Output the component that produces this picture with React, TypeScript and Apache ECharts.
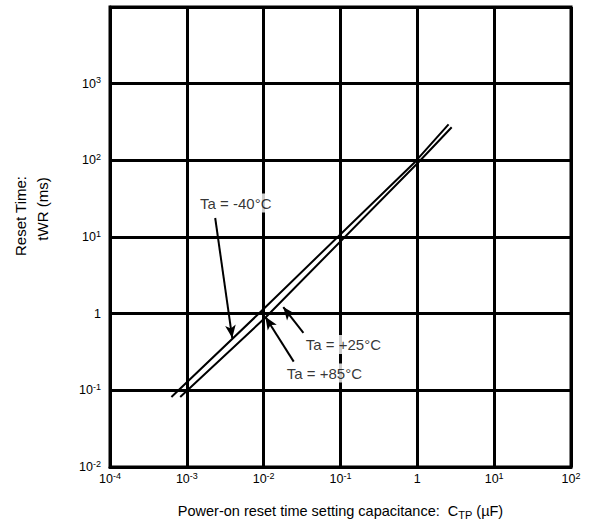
import React, { useEffect, useRef } from "react";
import * as echarts from "echarts";

// Capacitance (µF) and reset time (ms)
const capMinus40 = [6.3e-4, 8.8e-3, 0.94, 2.55];
const timeMinus40 = [0.082, 1.02, 96, 295];
const capPlus85 = [8.2e-4, 0.0108, 1.05, 2.8];
const timePlus85 = [0.082, 0.91, 96, 270];

// Annotation labels and arrow ends (data coordinates)
const labelTexts = ["Ta = -40°C", "Ta = +25°C", "Ta = +85°C"];
const labelX = [4.34e-3, 0.109, 0.0618];
const labelY = [27.7, 0.396, 0.168];
const arrowFromX = [2.34e-3, 0.0329, 0.0246];
const arrowFromY = [17.7, 0.56, 0.237];
const arrowToX = [3.9e-3, 0.018, 0.0105];
const arrowToY = [0.48, 1.22, 0.914];

// Axis ranges and texts
const xRange = [1e-4, 1e2];
const yRange = [1e-2, 1e4];
const yHiddenExp = [4];
const xAxisTitle = ["Power-on reset time setting capacitance:  C", "TP", " (µF)"];
const yAxisTitle = ["Reset Time:", "tWR (ms)"];

const FONT = "'Liberation Sans', Arial, Helvetica, sans-serif";

function tickLabel(v: number): string {
  const e = Math.round(Math.log10(v));
  if (yHiddenExp.includes(e) && v > 1e3) return "";
  if (e === 0) return "{b|1}";
  return `{b|10}{s|${e}}`;
}

const tickRich = {
  b: { fontSize: 12.5, fontFamily: FONT, color: "#000", lineHeight: 16 },
  s: { fontSize: 9, fontFamily: FONT, color: "#000", verticalAlign: "top", lineHeight: 16 },
};

export default function App() {
  const ref = useRef<HTMLDivElement>(null);
  useEffect(() => {
    document.body.style.margin = "0";
    if (!ref.current) return;
    const chart = echarts.init(ref.current, null, { renderer: "svg" });
    const series1 = capMinus40.map((c, i) => [c, timeMinus40[i]]);
    const series2 = capPlus85.map((c, i) => [c, timePlus85[i]]);
    const arrows = labelTexts.map((_, i) => [
      { coord: [arrowFromX[i], arrowFromY[i]] },
      { coord: [arrowToX[i], arrowToY[i]] },
    ]);
    const labels = labelTexts.map((t, i) => ({ name: t, value: [labelX[i], labelY[i]] }));
    chart.setOption({
      animation: false,
      backgroundColor: "#fff",
      grid: {
        left: 110,
        right: 24,
        top: 7,
        bottom: 64,
        show: true,
        borderColor: "#000",
        borderWidth: 3,
      },
      xAxis: {
        type: "log",
        logBase: 10,
        min: xRange[0],
        max: xRange[1],
        axisLine: { show: true, lineStyle: { color: "#000", width: 3 } },
        axisTick: { show: false },
        splitLine: { show: true, lineStyle: { color: "#000", width: 3 } },
        axisLabel: { formatter: tickLabel, rich: tickRich, margin: 4, color: "#000" },
        name: `{n|${xAxisTitle[0]}}{sub|${xAxisTitle[1]}}{n|${xAxisTitle[2]}}`,
        nameLocation: "middle",
        nameGap: 35,
        nameTextStyle: {
          rich: {
            n: { fontSize: 14.5, fontFamily: FONT, color: "#000", lineHeight: 18 },
            sub: { fontSize: 11, fontFamily: FONT, color: "#000", verticalAlign: "bottom", lineHeight: 18 },
          },
        },
      },
      yAxis: {
        type: "log",
        logBase: 10,
        min: yRange[0],
        max: yRange[1],
        axisLine: { show: true, lineStyle: { color: "#000", width: 3 } },
        axisTick: { show: false },
        splitLine: { show: true, lineStyle: { color: "#000", width: 3 } },
        axisLabel: { formatter: tickLabel, rich: tickRich, margin: 9, color: "#000" },
      },
      graphic: [
        {
          type: "text",
          x: 20,
          y: 216,
          rotation: Math.PI / 2,
          style: {
            text: yAxisTitle[0],
            fontSize: 15,
            fontFamily: FONT,
            fill: "#000",
            align: "center",
            verticalAlign: "middle",
          },
        },
        {
          type: "text",
          x: 42,
          y: 209,
          rotation: Math.PI / 2,
          style: {
            text: yAxisTitle[1],
            fontSize: 15,
            fontFamily: FONT,
            fill: "#000",
            align: "center",
            verticalAlign: "middle",
          },
        },
      ],
      series: [
        {
          name: "Ta = -40°C",
          type: "line",
          data: series1,
          showSymbol: false,
          symbol: "none",
          lineStyle: { color: "#000", width: 2 },
          z: 3,
        },
        {
          name: "Ta = +25°C / +85°C",
          type: "line",
          data: series2,
          showSymbol: false,
          symbol: "none",
          lineStyle: { color: "#000", width: 2 },
          z: 3,
          markLine: {
            silent: true,
            symbol: ["none", "arrow"],
            symbolSize: [8, 13],
            label: { show: false },
            lineStyle: { color: "#000", width: 2, type: "solid" },
            data: arrows,
          },
        },
        {
          name: "labels",
          type: "scatter",
          data: labels,
          symbolSize: 1,
          itemStyle: { color: "rgba(0,0,0,0)" },
          z: 10,
          label: {
            show: true,
            position: "inside",
            formatter: "{b}",
            fontSize: 15,
            fontFamily: FONT,
            color: "#000",
            backgroundColor: "#fff",
            padding: [2, 3],
          },
        },
      ],
    });
    return () => chart.dispose();
  }, []);
  return <div ref={ref} style={{ width: 595, height: 531 }} />;
}
